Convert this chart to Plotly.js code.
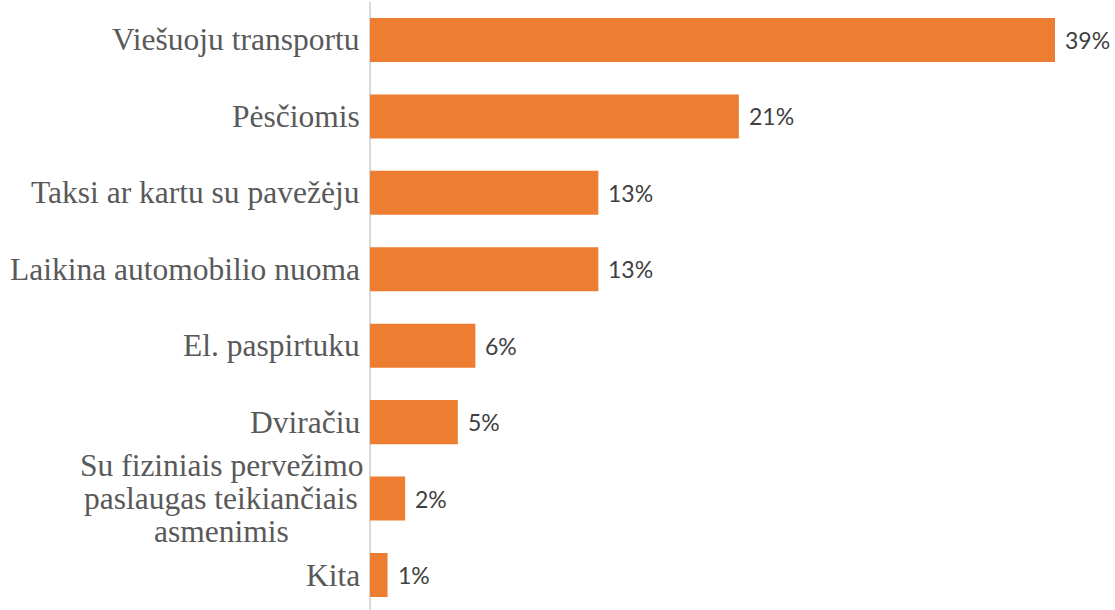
<!DOCTYPE html>
<html>
<head>
<meta charset="utf-8">
<script src="https://cdn.plot.ly/plotly-3.0.1.min.js"></script>
<style>html,body{margin:0;padding:0;background:#fff;}#chart{width:1115px;height:610px;}</style>
</head>
<body>
<div id="chart"></div>
<script>
const categories = [
  'Viešuoju transportu',
  'Pėsčiomis',
  'Taksi ar kartu su pavežėju',
  'Laikina automobilio nuoma',
  'El. paspirtuku',
  'Dviračiu',
  'Su fiziniais pervežimo<br>paslaugas teikiančiais<br>asmenimis',
  'Kita'
];
const values = [39, 21, 13, 13, 6, 5, 2, 1];
const valueLabels = ['39%', '21%', '13%', '13%', '6%', '5%', '2%', '1%'];

const catIdx = categories.map((c, i) => i);
const annotations = [];
const W = 1115, L = 370;
categories.forEach((c, i) => {
  const lines = c.split('<br>');
  const n = lines.length;
  lines.forEach((ln, j) => {
    annotations.push({
      xref: 'paper', yref: 'y',
      x: n > 1 ? -(L - 221) / (W - L) : -8 / (W - L),
      y: i,
      xanchor: n > 1 ? 'center' : 'right',
      yanchor: 'middle',
      yshift: -(j - (n - 1) / 2) * 33,
      text: ln,
      showarrow: false,
      font: {family: 'Liberation Serif, Times New Roman, serif', size: 31.5, color: '#595959'}
    });
  });
  annotations.push({
    xref: 'x', yref: 'y', x: values[i], y: i,
    xanchor: 'left', yanchor: 'middle', xshift: 8,
    text: valueLabels[i], showarrow: false,
    font: {family: 'Lato, sans-serif', size: 23, color: '#404040'}
  });
});

const trace = {
  type: 'bar', orientation: 'h',
  x: values, y: catIdx,
  marker: {color: '#ED7D31'},
  hoverinfo: 'none'
};

const layout = {
  width: 1115, height: 610,
  margin: {l: L, r: 0, t: 2, b: 0},
  paper_bgcolor: '#ffffff', plot_bgcolor: '#ffffff',
  showlegend: false,
  bargap: 0.424,
  xaxis: {range: [0, 745 * 39 / 685], showgrid: false, zeroline: true, zerolinecolor: '#d9d9d9', zerolinewidth: 2, showticklabels: false, ticks: '', showline: false, fixedrange: true},
  yaxis: {range: [7.458, -0.497], showgrid: false, zeroline: false, showticklabels: false, ticks: '', showline: false, fixedrange: true},
  annotations: annotations
};

Plotly.newPlot('chart', [trace], layout, {displayModeBar: false, staticPlot: true});
</script>
</body>
</html>
